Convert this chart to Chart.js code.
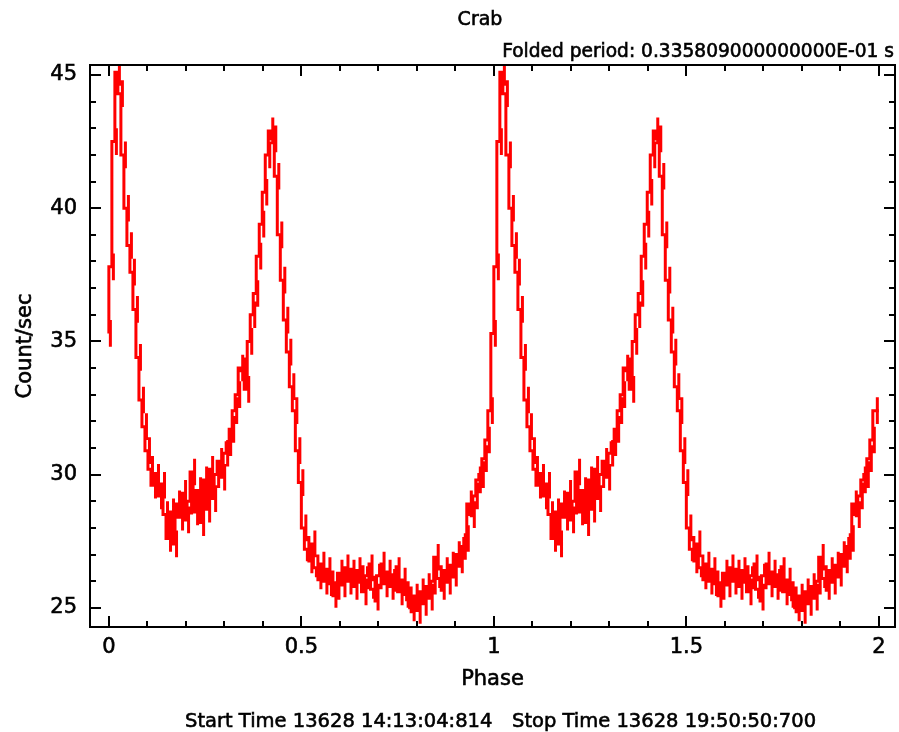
<!DOCTYPE html>
<html>
<head>
<meta charset="utf-8">
<title>Crab</title>
<script src="https://cdn.jsdelivr.net/npm/chart.js@4.4.1/dist/chart.umd.min.js"></script>
<style>
  html, body { margin: 0; padding: 0; background: #fff; }
</style>
</head>
<body>
<canvas id="foldChart" width="899" height="732"></canvas>
<script>
// ---------- DATA ----------
// folded rate for one period, 128 phase bins (Count/sec)
const rates = [
  35.3, 37.8, 42.5, 45.1, 44.3, 42.0, 40.0, 38.6, 37.6, 36.2,
  34.4, 32.8, 31.8, 30.9, 30.2, 29.6, 29.9, 29.2, 29.6, 28.5,
  27.6, 28.6, 27.4, 28.9, 28.4, 29.3, 28.3, 29.0, 30.1, 28.6,
  29.4, 28.2, 29.8, 28.7, 30.2, 29.1, 30.0, 30.5, 29.9, 30.8,
  31.2, 31.7, 32.4, 33.0, 34.0, 33.9, 33.2, 35.0, 36.0, 36.8,
  38.2, 39.4, 40.6, 42.0, 42.9, 42.6, 41.2, 39.0, 37.3, 35.8,
  34.6, 33.3, 32.4, 30.9, 29.7, 28.0, 27.2, 26.8, 27.4, 26.5,
  26.2, 26.6, 26.0, 26.4, 25.9, 25.5, 25.8, 26.3, 25.9, 26.5,
  26.0, 26.3, 25.8, 26.4, 26.1, 25.6, 26.2, 26.5, 25.7, 25.4,
  26.2, 26.6, 25.9, 26.3, 25.8, 26.1, 26.4, 25.6, 26.0, 25.5,
  25.3, 25.0, 25.4, 24.9, 25.6, 25.2, 25.8, 25.4, 26.0, 26.9,
  26.1, 25.8, 26.4, 26.0, 26.6, 26.3, 27.0, 26.8, 27.3, 27.6,
  28.9, 28.5, 29.2, 29.8, 30.0, 30.6, 31.3, 32.4
];
const rateErr = 0.5;           // error bar half-height
const cycles = [0, 1];         // plotted twice, phase 0-2

const xMajor = [0, 0.5, 1, 1.5, 2];
const xTickLabels = ['0', '0.5', '1', '1.5', '2'];
const yMajor = [25, 30, 35, 40, 45];
const yTickLabels = ['25', '30', '35', '40', '45'];

const titleText = 'Crab';
const periodText = 'Folded period: 0.335809000000000E-01 s';
const startText = 'Start Time 13628 14:13:04:814';
const stopText = 'Stop Time 13628 19:50:50:700';

// ---------- BUILD ----------
const nBins = rates.length;
const steps = [];
const errBars = [];
cycles.forEach(c => {
  rates.forEach((r, i) => {
    steps.push({x: c + i / nBins, y: r});
    const mid = c + (i + 0.5) / nBins;
    errBars.push({x: mid, y: r - rateErr}, {x: mid, y: r + rateErr}, {x: mid, y: null});
  });
});
steps.push({x: cycles.length, y: rates[nBins - 1]});

const RED = 'rgb(255, 0, 0)';
const FONT = '"DejaVu Sans", sans-serif';

// filled + thin stroke, a bit heavier like the plotter font
function label(ctx, text, x, y) {
  ctx.fillText(text, x, y);
  ctx.strokeText(text, x, y);
}

// axes frame, inward ticks and all texts
const framePlugin = {
  id: 'frame',
  afterDraw(chart) {
    const {ctx, chartArea: a, scales: {x, y}} = chart;
    ctx.save();
    ctx.strokeStyle = '#000';
    ctx.lineWidth = 2;
    ctx.strokeRect(a.left, a.top, a.right - a.left, a.bottom - a.top);

    ctx.beginPath();
    for (let k = 0; k <= 20; k++) {
      const px = Math.round(x.getPixelForValue(k / 10));
      const len = k % 5 === 0 ? 11 : 6;
      ctx.moveTo(px, a.bottom); ctx.lineTo(px, a.bottom - len);
      ctx.moveTo(px, a.top); ctx.lineTo(px, a.top + len);
    }
    for (let v = 25; v <= 45; v++) {
      const py = Math.round(y.getPixelForValue(v));
      const len = v % 5 === 0 ? 11 : 6;
      ctx.moveTo(a.left, py); ctx.lineTo(a.left + len, py);
      ctx.moveTo(a.right, py); ctx.lineTo(a.right - len, py);
    }
    ctx.stroke();

    ctx.fillStyle = '#000';
    ctx.lineWidth = 0.6;
    ctx.font = '21px ' + FONT;
    ctx.textAlign = 'center';
    ctx.textBaseline = 'alphabetic';
    xMajor.forEach((v, i) => label(ctx, xTickLabels[i], x.getPixelForValue(v), 653));
    ctx.textAlign = 'right';
    ctx.textBaseline = 'middle';
    yMajor.forEach((v, i) => label(ctx, yTickLabels[i], 77, y.getPixelForValue(v)));

    ctx.textAlign = 'center';
    ctx.textBaseline = 'alphabetic';
    label(ctx, 'Phase', (a.left + a.right) / 2, 685);
    ctx.save();
    ctx.translate(31, (a.top + a.bottom) / 2);
    ctx.rotate(-Math.PI / 2);
    label(ctx, 'Count/sec', 0, 0);
    ctx.restore();

    ctx.font = '19px ' + FONT;
    label(ctx, titleText, 480, 25);
    ctx.font = '18.6px ' + FONT;
    ctx.textAlign = 'right';
    label(ctx, periodText, 894, 57);
    ctx.font = '19.5px ' + FONT;
    ctx.textAlign = 'left';
    label(ctx, startText, 185, 727);
    label(ctx, stopText, 512, 727);
    ctx.restore();
  }
};

// ---------- CHART ----------
const ctxFold = document.getElementById('foldChart');

new Chart(ctxFold, {
  type: 'line',
  data: {
    datasets: [
      {
        label: 'rate',
        data: steps,
        stepped: 'after',
        borderColor: RED,
        borderWidth: 3,
        pointRadius: 0
      },
      {
        label: 'error',
        data: errBars,
        spanGaps: false,
        borderColor: RED,
        borderWidth: 3,
        pointRadius: 0
      }
    ]
  },
  options: {
    responsive: false,
    animation: false,
    events: [],
    layout: {
      padding: {left: 90, right: 4, top: 65, bottom: 105}
    },
    scales: {
      x: {type: 'linear', min: -0.049, max: 2.042, display: false},
      y: {type: 'linear', min: 24.28, max: 45.375, display: false}
    },
    plugins: {
      legend: {display: false},
      tooltip: {enabled: false}
    }
  },
  plugins: [framePlugin]
});
</script>
</body>
</html>
